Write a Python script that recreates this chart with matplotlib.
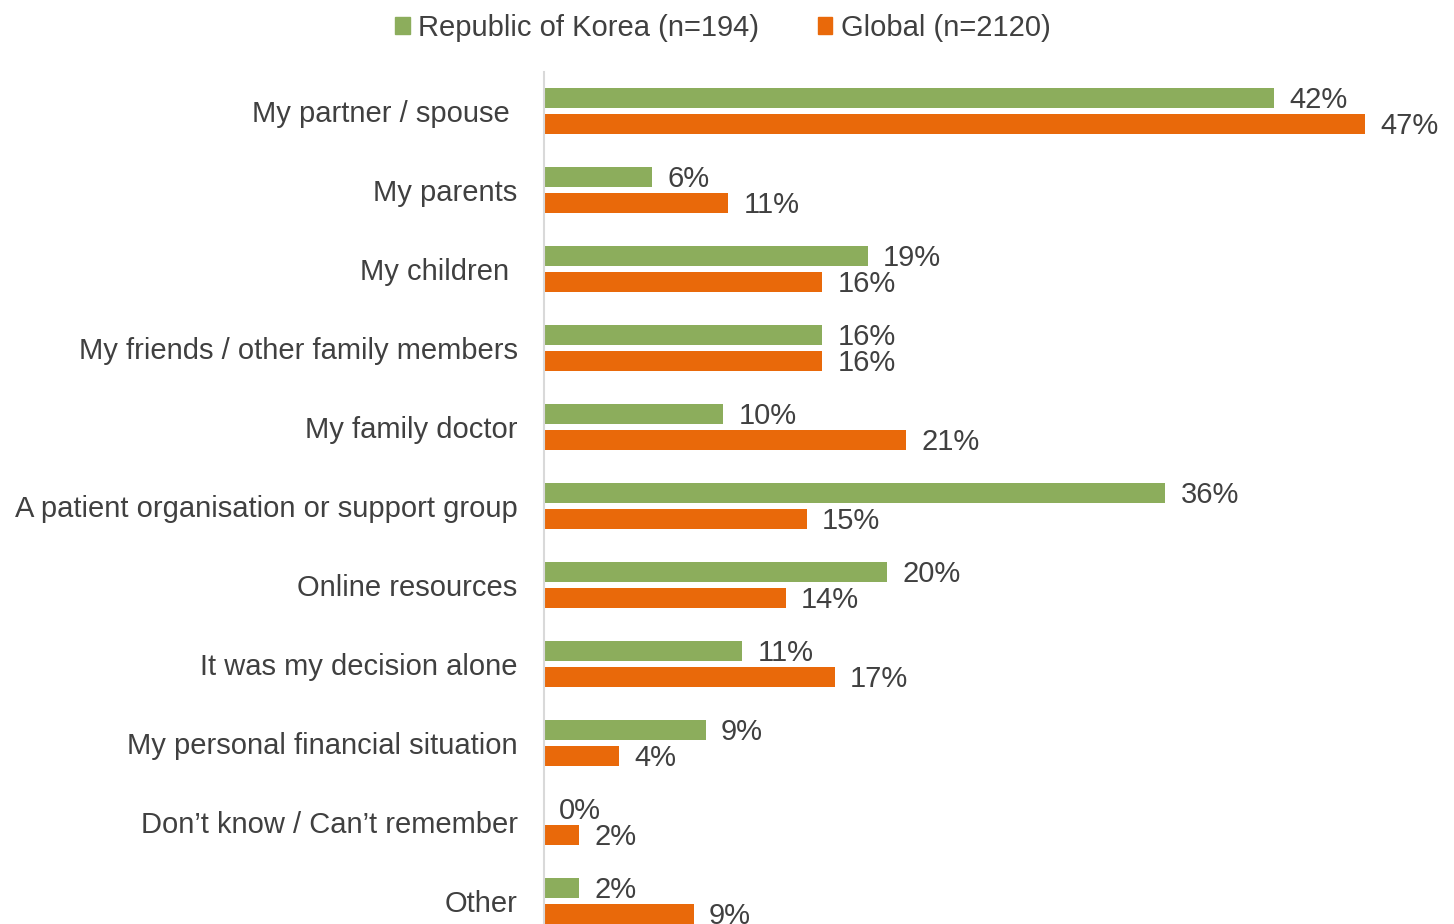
import numpy as np
import matplotlib.pyplot as plt
from matplotlib.patches import Patch

plt.rcParams['font.family'] = ['Liberation Sans', 'DejaVu Sans']

categories = ["My partner / spouse ", "My parents", "My children ",
              "My friends / other family members", "My family doctor",
              "A patient organisation or support group", "Online resources",
              "It was my decision alone", "My personal financial situation",
              "Don\u2019t know / Can\u2019t remember", "Other"]
# bar lengths (labels show them rounded)
korea = [41.95, 6.2, 18.6, 16.0, 10.3, 35.7, 19.7, 11.4, 9.3, 0.0, 2.0]
global_ = [47.18, 10.6, 16.0, 16.0, 20.8, 15.1, 13.9, 16.7, 4.3, 2.0, 8.6]
series_names = ["Republic of Korea (n=194)", "Global (n=2120)"]

green = '#8CAD5C'
orange = '#E9690A'
txt = '#404040'

W, H = 1454, 924
fig = plt.figure(figsize=(W / 100, H / 100), dpi=100)
# axes runs past the bottom edge, so the last group is cut like in the source
ax = fig.add_axes([544 / W, -16.5 / H, 873.5 / W, 869 / H])

y = np.arange(len(categories))
off = 13 / 79
bh = 20 / 79
ax.barh(y - off, korea, height=bh, color=green)
ax.barh(y + off, global_, height=bh, color=orange)

for yi, v in zip(y - off, korea):
    ax.annotate(f"{v:.0f}%", (v, yi), xytext=(11, -1.5), textcoords='offset points',
                va='center', ha='left', fontsize=21, color=txt)
for yi, v in zip(y + off, global_):
    ax.annotate(f"{v:.0f}%", (v, yi), xytext=(11, -1.5), textcoords='offset points',
                va='center', ha='left', fontsize=21, color=txt)

ax.set_xlim(0, 873.5 / 17.4)
ax.set_ylim(len(categories) - 0.5, -0.5)
ax.set_yticks(y)
ax.set_yticklabels(categories, fontsize=21, color=txt)
ax.tick_params(axis='y', length=0, pad=19)
ax.set_xticks([])
for s in ['top', 'right', 'bottom']:
    ax.spines[s].set_visible(False)
ax.spines['left'].set_color('#D9D9D9')
ax.spines['left'].set_linewidth(1.5)

handles = [Patch(color=green), Patch(color=orange)]
fig.legend(handles, series_names, loc='center', bbox_to_anchor=(723 / W, 1 - 28 / H),
           ncol=2, frameon=False, fontsize=21, handlelength=0.5, handleheight=0.5,
           handletextpad=0.3, columnspacing=2.0, labelcolor=txt, borderaxespad=0)

fig.savefig('out.png', dpi=100)
